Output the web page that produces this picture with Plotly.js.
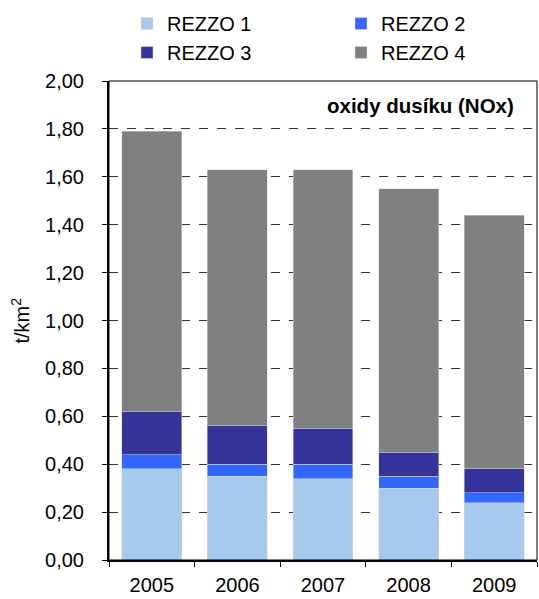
<!DOCTYPE html>
<html><head><meta charset="utf-8">
<script src="https://cdn.plot.ly/plotly-3.0.1.min.js"></script>
<style>body{margin:0;padding:0;background:#fff}</style>
</head><body>
<div id="chart" style="width:539px;height:599px"></div>
<script>
const years = ['2005','2006','2007','2008','2009'];
const rezzo1 = [0.38, 0.35, 0.34, 0.30, 0.24];
const rezzo2 = [0.06, 0.05, 0.06, 0.05, 0.04];
const rezzo3 = [0.18, 0.16, 0.15, 0.10, 0.10];
const rezzo4 = [1.17, 1.07, 1.08, 1.10, 1.06];
const names = ['REZZO 1','REZZO 2','REZZO 3','REZZO 4'];
const colors = ['#A6C9EE','#3366FF','#333399','#808080'];
const series = [rezzo1, rezzo2, rezzo3, rezzo4];
const legendOf = ['legend','legend2','legend','legend2'];

const traces = series.map((s,i)=>({
  type:'bar', x:years, y:s, name:names[i],
  legend:legendOf[i], legendgroup:'g'+i,
  marker:{color:colors[i], line:{color:'rgba(220,220,220,0.8)', width:0.6}},
  hoverinfo:'y'
}));

const legBase = {orientation:'v', xref:'container', yref:'container', yanchor:'top', xanchor:'left',
  font:{size:20}, traceorder:'grouped', tracegroupgap:0, itemwidth:30, bgcolor:'rgba(0,0,0,0)'};

const layout = {
  width:539, height:599,
  margin:{l:109, r:2, t:81, b:39, autoexpand:false},
  barmode:'stack', bargap:0.3,
  paper_bgcolor:'#fff', plot_bgcolor:'#fff',
  font:{family:'Liberation Sans, Arial, sans-serif', size:20, color:'#000'},
  showlegend:true,
  legend:Object.assign({}, legBase, {x:127/539, y:1-4/599}),
  legend2:Object.assign({}, legBase, {x:341/539, y:1-4/599}),
  xaxis:{type:'category', automargin:false, showline:true, linecolor:'#000', linewidth:2,
    ticks:'outside', tickson:'boundaries', ticklen:5, tickcolor:'#000',
    showgrid:false, tickfont:{size:20}, ticklabelstandoff:6},
  yaxis:{range:[0,2.0], automargin:false, dtick:0.2, tickformat:'.2f', showline:true, linecolor:'#000', linewidth:2,
    ticks:'outside', ticklen:5, tickcolor:'#000', showgrid:true, gridcolor:'#333', griddash:'dash', gridwidth:1,
    zeroline:false, tickfont:{size:20}, ticklabelstandoff:14},
  separators:',.',
  shapes:[{type:'rect', xref:'paper', yref:'paper', x0:0, x1:1, y0:0, y1:1, line:{color:'#000', width:1}, layer:'above'}],
  annotations:[
    {xref:'paper', yref:'paper', x:0.95, y:0.948, xanchor:'right', yanchor:'middle',
      text:'<b>oxidy dusíku (NOx)</b>', showarrow:false, font:{size:20.5}},
    {xref:'paper', yref:'paper', x:(20-109)/428, y:0.5, xanchor:'center', yanchor:'middle', textangle:-90,
      text:'t/km<sup>2</sup>', showarrow:false, font:{size:20}}
  ]
};
Plotly.newPlot('chart', traces, layout, {displayModeBar:false, staticPlot:true});
</script>
</body></html>
